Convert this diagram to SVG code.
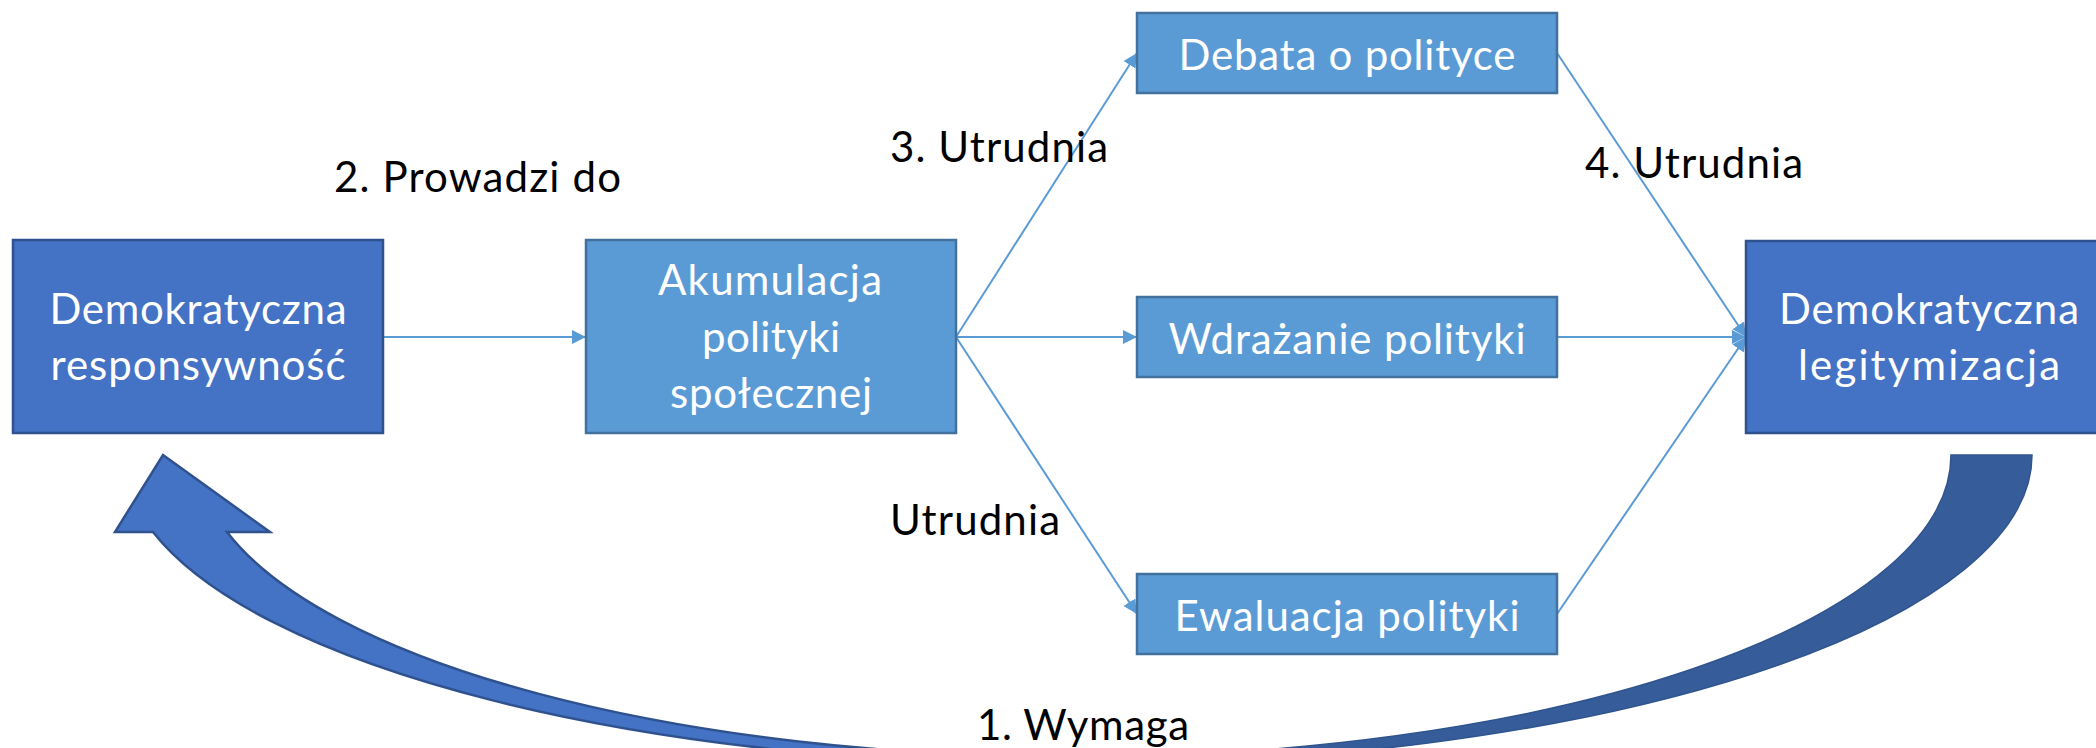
<svg xmlns="http://www.w3.org/2000/svg" width="2096" height="748" viewBox="0 0 2096 748">
<style>
.dark{fill:#4472C4;stroke:#2F528F;stroke-width:2.5}
.light{fill:#5B9BD5;stroke:#41719C;stroke-width:2.5}
.bt{font-family:Lato,"Liberation Sans",sans-serif;font-size:42px;fill:#FFFFFF;text-anchor:middle}
.lb{font-family:Lato,"Liberation Sans",sans-serif;font-size:42px;fill:#000000}
.con{stroke:#5B9BD5;stroke-width:2;fill:none;marker-end:url(#ah)}
</style>
<defs>
<marker id="ah" markerUnits="userSpaceOnUse" markerWidth="16" markerHeight="16" refX="14" refY="7" orient="auto">
<path d="M0,0 L14,7 L0,14 Z" fill="#5B9BD5"/>
</marker>
</defs>
<rect width="2096" height="748" fill="#FFFFFF"/>

<g id="big-arrow">
<path d="M1073,757 A878,302 0 0 0 1951,455 L2032,455 A959,310 0 0 1 1073,765 Z" fill="#365D9A" stroke="#30548E" stroke-width="1.5"/>
<path d="M163,455 L270,532 L227,532 A878,302 0 0 0 1073,757 L1073,765 A950,310 0 0 1 153,532 L115,532 Z" fill="#4472C4" stroke="#2F528F" stroke-width="2.5" stroke-linejoin="miter"/>
</g>

<g id="connectors">
<line class="con" x1="384" y1="337" x2="586" y2="337"/>
<line class="con" x1="956" y1="337" x2="1137" y2="53"/>
<line class="con" x1="956" y1="337" x2="1137" y2="337"/>
<line class="con" x1="956" y1="337" x2="1137" y2="614"/>
<line class="con" x1="1557" y1="53" x2="1746" y2="337"/>
<line class="con" x1="1557" y1="337" x2="1746" y2="337"/>
<line class="con" x1="1557" y1="614" x2="1746" y2="337"/>
</g>

<g id="node-responsywnosc">
<rect class="dark" x="13" y="240" width="370" height="193"/>
<text class="bt" x="198" y="324" textLength="297">Demokratyczna</text>
<text class="bt" x="198" y="380" textLength="295">responsywność</text>
</g>

<g id="node-akumulacja">
<rect class="light" x="586" y="240" width="370" height="193"/>
<text class="bt" x="770" y="295" textLength="224">Akumulacja</text>
<text class="bt" x="771" y="352" textLength="138">polityki</text>
<text class="bt" x="771" y="408" textLength="202">społecznej</text>
</g>

<g id="node-debata">
<rect class="light" x="1137" y="13" width="420" height="80"/>
<text class="bt" x="1347" y="70" textLength="337">Debata o polityce</text>
</g>

<g id="node-wdrazanie">
<rect class="light" x="1137" y="297" width="420" height="80"/>
<text class="bt" x="1347" y="354" textLength="357">Wdrażanie polityki</text>
</g>

<g id="node-ewaluacja">
<rect class="light" x="1137" y="574" width="420" height="80"/>
<text class="bt" x="1347" y="631" textLength="345">Ewaluacja polityki</text>
</g>

<g id="node-legitymizacja">
<rect class="dark" x="1746" y="241" width="370" height="192"/>
<text class="bt" x="1929" y="324" textLength="300">Demokratyczna</text>
<text class="bt" x="1929" y="380" textLength="262">legitymizacja</text>
</g>

<g id="labels">
<text class="lb" x="334" y="192" textLength="287">2. Prowadzi do</text>
<text class="lb" x="890" y="162" textLength="218">3. Utrudnia</text>
<text class="lb" x="1585" y="178" textLength="218">4. Utrudnia</text>
<text class="lb" x="890" y="535" textLength="170">Utrudnia</text>
<text class="lb" x="977" y="740" textLength="212">1. Wymaga</text>
</g>
</svg>
